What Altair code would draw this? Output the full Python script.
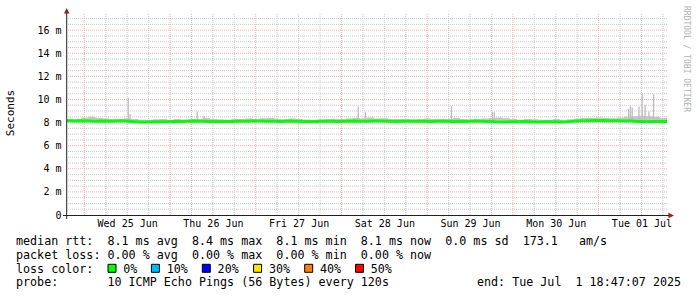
import altair as alt
import pandas as pd

MONO = "DejaVu Sans Mono"
W, H = 600, 201
X_DOMAIN = [-4.85, 163.15]   # hours relative to Wed 25 Jun 00:00
Y_DOMAIN = [0, 17.4]         # milliseconds

# ---- data -------------------------------------------------------------
t_start = -4.85
t_step = 2.0
median_ms = [8.15, 8.14, 8.15, 8.13, 8.12, 8.14, 8.12, 8.13, 8.15, 8.10,
             8.06, 8.05, 8.07, 8.08, 8.08, 8.09, 8.10, 8.12, 8.14, 8.12,
             8.10, 8.09, 8.10, 8.09, 8.11, 8.12, 8.13, 8.14, 8.12, 8.11,
             8.10, 8.13, 8.11, 8.10, 8.09, 8.10, 8.11, 8.12, 8.10, 8.12,
             8.13, 8.11, 8.12, 8.13, 8.14, 8.12, 8.10, 8.12, 8.11, 8.12,
             8.11, 8.10, 8.11, 8.12, 8.10, 8.11, 8.10, 8.13, 8.12, 8.10,
             8.07, 8.06, 8.08, 8.07, 8.09, 8.08, 8.06, 8.07, 8.08, 8.06,
             8.07, 8.12, 8.15, 8.16, 8.18, 8.17, 8.15, 8.16, 8.14, 8.13,
             8.10, 8.08, 8.09, 8.10, 8.10]
smoke_hi_ms = [8.30, 8.28, 8.45, 8.50, 8.40, 8.35, 8.30, 8.32, 8.35, 8.30,
               8.25, 8.22, 8.28, 8.30, 8.25, 8.30, 8.26, 8.32, 8.30, 8.40,
               8.30, 8.28, 8.25, 8.30, 8.32, 8.35, 8.30, 8.38, 8.40, 8.33,
               8.28, 8.35, 8.30, 8.26, 8.25, 8.28, 8.30, 8.33, 8.30, 8.35,
               8.40, 8.36, 8.45, 8.35, 8.38, 8.30, 8.32, 8.30, 8.28, 8.30,
               8.35, 8.30, 8.33, 8.30, 8.40, 8.30, 8.28, 8.32, 8.35, 8.40,
               8.45, 8.38, 8.30, 8.25, 8.30, 8.28, 8.25, 8.22, 8.30, 8.25,
               8.28, 8.35, 8.40, 8.42, 8.45, 8.40, 8.38, 8.45, 8.50, 8.55,
               8.60, 8.55, 8.50, 8.40, 8.35]
hours = [t_start + t_step * i for i in range(len(median_ms))]

spike_hours = [12.3, 12.8, 31.6, 33.5, 76.7, 78.7, 102.8, 114.3, 114.8,
               152.4, 152.9, 153.4, 155.3, 156.2, 157.0, 158.1, 159.4, 160.5]
spike_tops = [10.15, 8.75, 8.95, 8.6, 9.4, 8.9, 9.45, 8.9, 8.9,
              9.2, 9.4, 9.3, 9.4, 10.45, 9.5, 8.95, 10.45, 8.5]

day_label_hours = [12, 36, 60, 84, 108, 132, 156]
day_labels = ["Wed 25 Jun", "Thu 26 Jun", "Fri 27 Jun", "Sat 28 Jun",
              "Sun 29 Jun", "Mon 30 Jun", "Tue 01 Jul"]
major_x = [0, 24, 48, 72, 96, 120, 144]
minor_x = [6, 12, 18, 30, 36, 42, 54, 60, 66, 78, 84, 90, 102, 108, 114,
           126, 132, 138, 150, 156, 162]
major_y = [2, 4, 6, 8, 10, 12, 14, 16]
minor_y = [0.5, 1, 1.5, 2.5, 3, 3.5, 4.5, 5, 5.5, 6.5, 7, 7.5, 8.5, 9, 9.5,
           10.5, 11, 11.5, 12.5, 13, 13.5, 14.5, 15, 15.5, 16.5, 17]
y_label_values = [0, 2, 4, 6, 8, 10, 12, 14, 16]

legend_rows = [
    "median rtt:  8.1 ms avg  8.4 ms max  8.1 ms min  8.1 ms now  0.0 ms sd  173.1   am/s",
    "packet loss: 0.00 % avg  0.00 % max  0.00 % min  0.00 % now",
    "loss color:",
    "probe:       10 ICMP Echo Pings (56 Bytes) every 120s",
]
loss_labels = ["0%", "10%", "20%", "30%", "40%", "50%"]
loss_colors = ["#00ff00", "#00bbff", "#0000ff", "#ffe600", "#ff8000", "#ff0000"]
end_text = "end: Tue Jul  1 18:47:07 2025"

# ---- encodings ---------------------------------------------------------
label_expr = "[{}][indexof([{}], datum.value)]".format(
    ",".join("'" + s + "'" for s in day_labels),
    ",".join(str(v) for v in day_label_hours))
x_axis = alt.Axis(values=day_label_hours, labelExpr=label_expr, title=None,
                  grid=False, ticks=False, domain=False, labelFont=MONO,
                  labelFontSize=10, labelColor="#000", labelPadding=3,
                  labelFlush=False, labelOverlap=False)
y_axis = alt.Axis(values=y_label_values,
                  labelExpr="datum.value == 0 ? '0' : datum.value + ' m'",
                  title=None, grid=False, ticks=False, domain=False,
                  labelFont=MONO, labelFontSize=10, labelColor="#000",
                  labelPadding=6)
xs = alt.Scale(domain=X_DOMAIN, nice=False, zero=False)
ys = alt.Scale(domain=Y_DOMAIN, nice=False, zero=False)


def X(f):
    return alt.X(f + ":Q", scale=xs, axis=x_axis)


def Y(f):
    return alt.Y(f + ":Q", scale=ys, axis=y_axis)


series = pd.DataFrame({"h": hours, "med": median_ms, "hi": smoke_hi_ms})
spikes = pd.DataFrame({"h": spike_hours, "top": spike_tops})

layers = []
layers.append(alt.Chart(pd.DataFrame({"h": minor_x})).mark_rule(
    color="#c8c8c8", strokeDash=[1, 1], strokeWidth=1).encode(x=X("h")))
layers.append(alt.Chart(pd.DataFrame({"v": minor_y})).mark_rule(
    color="#c8c8c8", strokeDash=[1, 1], strokeWidth=1).encode(y=Y("v")))
layers.append(alt.Chart(pd.DataFrame({"h": major_x})).mark_rule(
    color="#f2b0b0", strokeDash=[1, 1], strokeWidth=1).encode(x=X("h")))
layers.append(alt.Chart(pd.DataFrame({"v": major_y})).mark_rule(
    color="#f2b0b0", strokeDash=[1, 1], strokeWidth=1).encode(y=Y("v")))

layers.append(alt.Chart(series).mark_area(
    color="#c6c6c6", interpolate="step-after", clip=True).encode(
    x=X("h"), y=Y("hi"), y2="med:Q"))
layers.append(alt.Chart(spikes).mark_rule(
    color="#bcbcbc", strokeWidth=1.3, clip=True).encode(
    x=X("h"), y=Y("top"), y2=alt.datum(8.1)))
layers.append(alt.Chart(series).mark_line(
    color="#00ff00", strokeWidth=3, clip=True).encode(x=X("h"), y=Y("med")))

# axis lines & arrows
AXC = "#222222"
ARROW = "#9b1c1c"
dummy = pd.DataFrame({"a": [0]})
layers.append(alt.Chart(dummy).mark_rule(color=AXC, strokeWidth=1).encode(
    x=alt.value(-4), x2=alt.value(602), y=alt.value(H + 0.5)))
layers.append(alt.Chart(dummy).mark_rule(color=AXC, strokeWidth=1).encode(
    x=alt.value(-0.3), y=alt.value(-1), y2=alt.value(H + 4)))
layers.append(alt.Chart(dummy).mark_point(
    shape="M-1,1L0,-1L1,1Z", filled=True, size=30, opacity=1,
    color=ARROW).encode(x=alt.value(-0.3), y=alt.value(-3.3)))
layers.append(alt.Chart(dummy).mark_point(
    shape="M-1,-1L1,0L-1,1Z", filled=True, size=30, opacity=1,
    color=ARROW).encode(x=alt.value(604.2), y=alt.value(H + 0.5)))


def label(text, x, y, size=11.7, color="#000000", angle=0, align="left",
          baseline="alphabetic"):
    return alt.Chart(pd.DataFrame({"t": [text.replace(" ", "\u00a0")]})).mark_text(
        align=align, baseline=baseline, font=MONO, fontSize=size,
        color=color, angle=angle).encode(
        text="t:N", x=alt.value(x), y=alt.value(y))


OX, OY = 67, 14
layers.append(label("Seconds", 10.7 - OX, 113 - OY, size=11, angle=270,
                    align="center", baseline="middle"))
layers.append(label("RRDTOOL / TOBI OETIKER", 686 - OX, 59 - OY, size=8,
                    color="#b0b0b0", angle=90, align="center",
                    baseline="middle"))
row_y = [244.7, 258.6, 272.5, 286.4]
for txt, yy in zip(legend_rows, row_y):
    layers.append(label(txt, 16 - OX, yy - OY))
layers.append(label(end_text, 477 - OX, row_y[3] - OY))

box_x = [112, 155.4, 206.3, 257.6, 308.7, 359.5]
for bx, lab, col in zip(box_x, loss_labels, loss_colors):
    layers.append(alt.Chart(dummy).mark_point(
        shape="square", filled=True, size=64, opacity=1, fill=col,
        stroke="#000000", strokeWidth=1).encode(
        x=alt.value(bx - OX), y=alt.value(268.3 - OY)))
    layers.append(label(lab, bx + 11.3 - OX, row_y[2] - OY))

chart = alt.layer(*layers).properties(
    width=W, height=H,
    padding={"left": OX, "top": OY, "right": 697 - OX - W, "bottom": 297 - OY - H},
    autosize=alt.AutoSizeParams(type="none"),
    background="#ffffff",
).configure_view(stroke=None)

chart.save("out.html", embed_options={"renderer": "svg", "actions": False})
